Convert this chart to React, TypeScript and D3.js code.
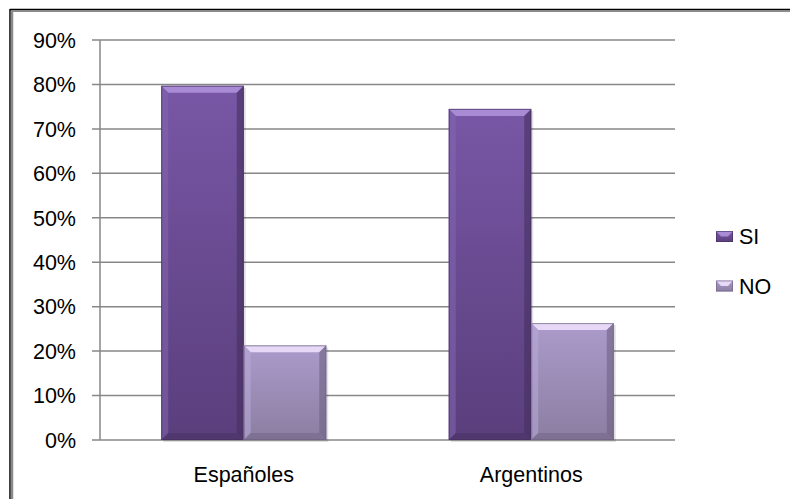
import React from "react";
import * as d3 from "d3";

const categories = ["Españoles", "Argentinos"];
const seriesNames = ["SI", "NO"];
const siValues = [0.797, 0.745];
const noValues = [0.213, 0.263];
const yTicks = [0, 0.1, 0.2, 0.3, 0.4, 0.5, 0.6, 0.7, 0.8, 0.9];

const W = 790;
const H = 499;
const plotLeft = 100;
const plotRight = 675;
const plotTop = 40;
const plotBottom = 440;

const palettes = [
  { top: "#7857a6", bottom: "#5a3e7c", light: "#a98ad4", lightEdge: "#8466b0", dark: "#45305f", bottomEdge: "#4c3468" },
  { top: "#ab9bcb", bottom: "#8b7ea1", light: "#e6d8f6", lightEdge: "#baaad8", dark: "#6e6283", bottomEdge: "#776b8c" },
];

const FONT = "'Liberation Sans', Arial, sans-serif";

function Bar({ x, y, w, h, p, id }: { x: number; y: number; w: number; h: number; p: any; id: string }) {
  const b = Math.min(7, h / 2);
  return (
    <g>
      <rect x={x + 2} y={y + 2} width={w} height={h} fill="#000" opacity={0.12} />
      <rect x={x} y={y} width={w} height={h} fill={`url(#grad-${id})`} />
      {/* top bevel */}
      <polygon points={`${x},${y} ${x + w},${y} ${x + w - b},${y + b} ${x + b},${y + b}`} fill={p.light} />
      {/* left bevel */}
      <polygon points={`${x},${y} ${x + b},${y + b} ${x + b},${y + h - b} ${x},${y + h}`} fill={p.lightEdge} opacity={0.55} />
      {/* right bevel */}
      <polygon points={`${x + w},${y} ${x + w},${y + h} ${x + w - b},${y + h - b} ${x + w - b},${y + b}`} fill={p.dark} opacity={0.6} />
      {/* bottom bevel */}
      <polygon points={`${x},${y + h} ${x + w},${y + h} ${x + w - b},${y + h - b} ${x + b},${y + h - b}`} fill={p.bottomEdge} opacity={0.7} />
      <rect x={x + 0.5} y={y + 0.5} width={w - 1} height={h - 1} fill="none" stroke={p.dark} strokeWidth={1} opacity={0.7} />
    </g>
  );
}

export default function App() {
  const y = d3.scaleLinear().domain([0, 0.9]).range([plotBottom, plotTop]);
  const pad = 0.426;
  const x0 = d3.scaleBand<string>().domain(categories).range([plotLeft, plotRight]).paddingInner(pad).paddingOuter(pad / 2);
  const x1 = d3.scaleBand<string>().domain(seriesNames).range([0, x0.bandwidth()]);
  const seriesValues = [siValues, noValues];
  const fmt = d3.format(".0%");

  return (
    <svg width={W} height={H} style={{ position: "absolute", left: 0, top: 0, background: "#fff" }}>
      <defs>
        {palettes.map((p, i) => (
          <linearGradient key={i} id={`grad-${i}`} x1="0" y1="0" x2="0" y2="1">
            <stop offset="0%" stopColor={p.top} />
            <stop offset="100%" stopColor={p.bottom} />
          </linearGradient>
        ))}
        {palettes.map((p, i) => (
          <linearGradient key={"l" + i} id={`lgrad-${i}`} x1="0" y1="0" x2="0" y2="1">
            <stop offset="0%" stopColor={p.light} />
            <stop offset="100%" stopColor={p.bottom} />
          </linearGradient>
        ))}
      </defs>
      <rect x={0} y={0} width={W} height={H} fill="#fff" />
      {/* frame */}
      <line x1={10} y1={9.5} x2={W} y2={9.5} stroke="#000" strokeWidth={1.5} />
      <line x1={11} y1={11} x2={W} y2={11} stroke="#8a8a8a" strokeWidth={2} />
      <line x1={10} y1={9} x2={10} y2={H} stroke="#000" strokeWidth={1.5} />
      <line x1={12} y1={11} x2={12} y2={H} stroke="#8a8a8a" strokeWidth={2.5} />

      {/* gridlines */}
      {yTicks.map((t) => (
        <g key={t}>
          <line x1={plotLeft - 8} x2={plotRight} y1={y(t)} y2={y(t)} stroke="#878787" strokeWidth={1.5} />
          <text x={76} y={y(t)} dy="0.36em" textAnchor="end" fontFamily={FONT} fontSize={21.5} fill="#000">
            {fmt(t)}
          </text>
        </g>
      ))}
      <line x1={plotLeft} x2={plotLeft} y1={plotTop} y2={plotBottom} stroke="#878787" strokeWidth={1.5} />

      {/* bars */}
      {categories.map((c, ci) =>
        seriesNames.map((s, si) => {
          const v = seriesValues[si][ci];
          const bx = (x0(c) ?? 0) + (x1(s) ?? 0);
          const by = y(v);
          return <Bar key={c + s} x={bx} y={by} w={x1.bandwidth()} h={plotBottom - by} p={palettes[si]} id={String(si)} />;
        })
      )}

      {/* category labels */}
      {categories.map((c) => (
        <text key={c} x={(x0(c) ?? 0) + x0.bandwidth() / 2} y={482} textAnchor="middle" fontFamily={FONT} fontSize={21.5} fill="#000">
          {c}
        </text>
      ))}

      {/* legend */}
      {seriesNames.map((s, i) => {
        const ly = 236.5 + i * 49.5;
        const p = palettes[i];
        return (
          <g key={s}>
            <rect x={716} y={ly - 5.5} width={17} height={11} fill={`url(#grad-${i})`} />
            <polygon points={`716,${ly - 5.5} 733,${ly - 5.5} 728,${ly} 721,${ly}`} fill={p.light} />
            <rect x={716.5} y={ly - 5} width={16} height={10} fill="none" stroke={p.dark} strokeWidth={1} opacity={0.6} />
            <text x={739} y={ly} dy="0.36em" fontFamily={FONT} fontSize={21.5} fill="#000">
              {s}
            </text>
          </g>
        );
      })}
    </svg>
  );
}
